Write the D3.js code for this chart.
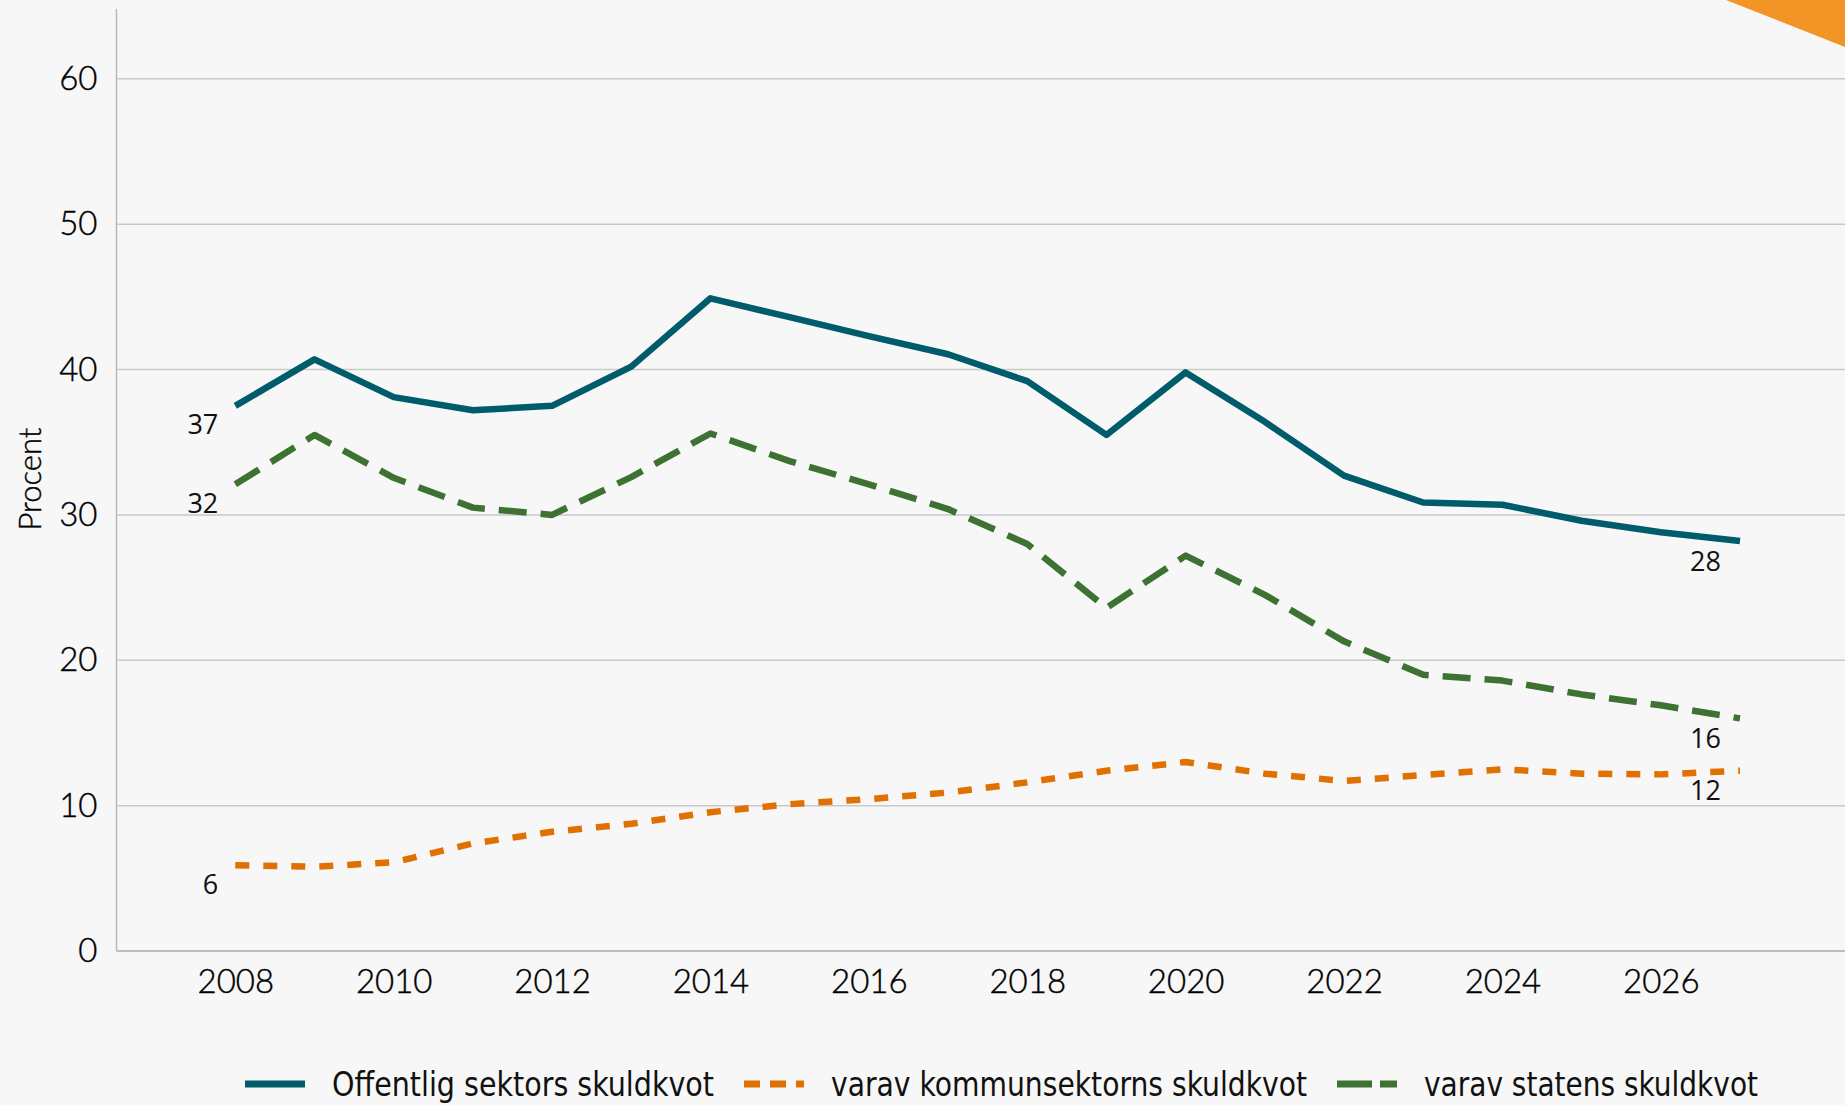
<!DOCTYPE html>
<html>
<head>
<meta charset="utf-8">
<script src="https://cdn.jsdelivr.net/npm/d3@7"></script>
<style>
    html, body { margin: 0; padding: 0; background: #f7f7f7; }
    svg { display: block; }
</style>
</head>
<body>
<div class="chart"></div>
<script>
// Skuldkvoter, procent av BNP
const years = [2008, 2009, 2010, 2011, 2012, 2013, 2014, 2015, 2016, 2017,
               2018, 2019, 2020, 2021, 2022, 2023, 2024, 2025, 2026, 2027];
const offentlig = [37.5, 40.7, 38.1, 37.2, 37.5, 40.2, 44.9, 43.6, 42.3, 41.05,
                   39.2, 35.5, 39.8, 36.4, 32.7, 30.85, 30.7, 29.6, 28.8, 28.2];
const kommun = [5.9, 5.8, 6.1, 7.4, 8.2, 8.75, 9.55, 10.1, 10.45, 10.9,
                11.6, 12.4, 13.0, 12.2, 11.7, 12.1, 12.5, 12.2, 12.15, 12.4];
const staten = [32.1, 35.5, 32.55, 30.5, 30.0, 32.6, 35.6, 33.7, 32.1, 30.4,
                28.0, 23.6, 27.2, 24.5, 21.3, 19.0, 18.6, 17.65, 16.9, 16.0];
const seriesNames = ["Offentlig sektors skuldkvot", "varav kommunsektorns skuldkvot", "varav statens skuldkvot"];
const startLabels = ["37", "6", "32"];
const endLabels = ["28", "12", "16"];
const yTicks = [0, 10, 20, 30, 40, 50, 60];
const xTicks = [2008, 2010, 2012, 2014, 2016, 2018, 2020, 2022, 2024, 2026];

const width = 1845, height = 1105;
const plotLeft = 116.5, plotBottom = 951, plotTop = 9;

const series = [
    {name: seriesNames[0], values: offentlig, color: "#005b6a", dash: null, legendDash: null, start: startLabels[0], end: endLabels[0], textLen: 382},
    {name: seriesNames[1], values: kommun, color: "#e07000", dash: "14,14", legendDash: "16,10", start: startLabels[1], end: endLabels[1], textLen: 476},
    {name: seriesNames[2], values: staten, color: "#3d7233", dash: "28,14", legendDash: "35,8", start: startLabels[2], end: endLabels[2], textLen: 334}
];

var svg = d3.select(".chart").append("svg")
        .attr("width", width)
        .attr("height", height);

svg.append("rect")
        .attr("width", width)
        .attr("height", height)
        .attr("fill", "#f7f7f7");

// orange corner
svg.append("polygon")
        .attr("points", "1726,0 1845,0 1845,47")
        .attr("fill", "#f39426");

var x = d3.scaleLinear().domain([2008, 2027]).range([235.3, 1740]);
var y = d3.scaleLinear().domain([0, 64.8]).range([plotBottom, plotTop]);

// gridlines
svg.selectAll(".grid")
        .data(yTicks.filter((d) => d > 0))
        .enter().append("line")
        .attr("x1", plotLeft)
        .attr("x2", width)
        .attr("y1", (d) => y(d))
        .attr("y2", (d) => y(d))
        .attr("stroke", "#c9c9c9")
        .attr("stroke-width", 1.5);

// axis lines
svg.append("line")
        .attr("x1", plotLeft).attr("x2", plotLeft)
        .attr("y1", plotTop).attr("y2", plotBottom)
        .attr("stroke", "#b8b8b8").attr("stroke-width", 1.5);
svg.append("line")
        .attr("x1", plotLeft).attr("x2", width)
        .attr("y1", plotBottom).attr("y2", plotBottom)
        .attr("stroke", "#bdbdbd").attr("stroke-width", 2);

var tickFont = "Lato, 'Noto Sans', sans-serif";
var yAxis = svg.append("g")
        .attr("transform", "translate(" + plotLeft + ",0)")
        .call(d3.axisLeft(y).tickValues(yTicks).tickSize(0).tickPadding(19));
yAxis.select(".domain").remove();
yAxis.selectAll("text")
        .attr("font-family", tickFont)
        .attr("font-weight", 300)
        .attr("font-size", 33)
        .attr("fill", "#000")
        .attr("stroke", "#000")
        .attr("stroke-width", 0.4);

var xAxis = svg.append("g")
        .attr("transform", "translate(0," + plotBottom + ")")
        .call(d3.axisBottom(x).tickValues(xTicks).tickFormat(d3.format("d")).tickSize(0).tickPadding(0));
xAxis.select(".domain").remove();
xAxis.selectAll("text")
        .attr("dy", null)
        .attr("y", 29)
        .attr("dominant-baseline", "central")
        .attr("font-family", tickFont)
        .attr("font-weight", 300)
        .attr("font-size", 33)
        .attr("fill", "#000")
        .attr("stroke", "#000")
        .attr("stroke-width", 0.4);

svg.append("text")
        .attr("transform", "translate(29,479) rotate(-90)")
        .attr("text-anchor", "middle")
        .attr("dominant-baseline", "central")
        .attr("font-family", tickFont)
        .attr("font-weight", 300)
        .attr("font-size", 31)
        .attr("fill", "#000")
        .attr("stroke", "#000")
        .attr("stroke-width", 0.4)
        .text("Procent");

// lines
var line = d3.line()
        .x((d, i) => x(years[i]))
        .y((d) => y(d));

svg.selectAll(".series")
        .data(series)
        .enter().append("path")
        .attr("d", (d) => line(d.values))
        .attr("fill", "none")
        .attr("stroke", (d) => d.color)
        .attr("stroke-width", 6.5)
        .attr("stroke-linejoin", "round")
        .attr("stroke-dasharray", (d) => d.dash);

// start / end labels
var labelFont = "'Open Sans', 'Noto Sans', sans-serif";
svg.selectAll(".startLabel")
        .data(series)
        .enter().append("text")
        .attr("x", x(years[0]) - 17)
        .attr("y", (d) => y(d.values[0]) + 18)
        .attr("text-anchor", "end")
        .attr("dominant-baseline", "central")
        .attr("font-family", labelFont)
        .attr("font-size", 27)
        .attr("fill", "#111")
        .text((d) => d.start);
svg.selectAll(".endLabel")
        .data(series)
        .enter().append("text")
        .attr("x", x(years[years.length - 1]) - 19)
        .attr("y", (d) => y(d.values[d.values.length - 1]) + 19)
        .attr("text-anchor", "end")
        .attr("dominant-baseline", "central")
        .attr("font-family", labelFont)
        .attr("font-size", 27)
        .attr("fill", "#111")
        .text((d) => d.end);

// legend
var legendY = 1084;
var lx = 245;
series.forEach((s) => {
    var g = svg.append("g");
    g.append("line")
            .attr("x1", lx).attr("x2", lx + 60)
            .attr("y1", legendY).attr("y2", legendY)
            .attr("stroke", s.color)
            .attr("stroke-width", 7)
            .attr("stroke-dasharray", s.legendDash);
    g.append("text")
            .attr("x", lx + 87)
            .attr("y", legendY)
            .attr("dominant-baseline", "central")
            .attr("font-family", "'Liberation Sans Narrow', 'DejaVu Sans Condensed', 'Noto Sans', sans-serif")
            .attr("font-size", 34)
            .attr("fill", "#111")
            .attr("textLength", s.textLen)
            .attr("lengthAdjust", "spacingAndGlyphs")
            .text(s.name);
    lx += 87 + s.textLen + 30;
});
</script>
</body>
</html>
